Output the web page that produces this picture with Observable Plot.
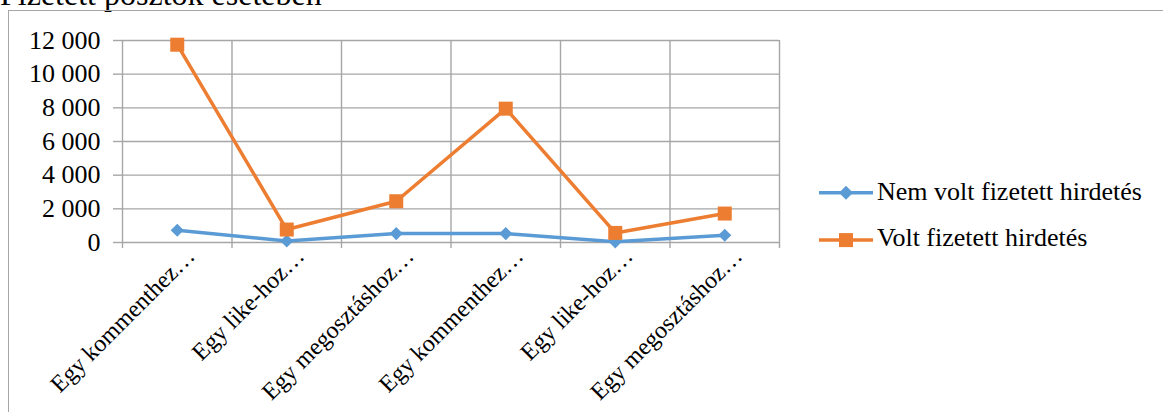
<!DOCTYPE html>
<html>
<head>
<meta charset="utf-8">
<script src="https://cdn.jsdelivr.net/npm/d3@7"></script>
<script src="https://cdn.jsdelivr.net/npm/@observablehq/plot@0.6"></script>
<style>
  html, body { margin: 0; padding: 0; background: #fff; }
  #wrap { position: relative; width: 1163px; height: 412px; overflow: hidden; font-family: "Liberation Serif", "Times New Roman", serif; color: #000; }
  #title { position: absolute; left: 0; top: -21.8px; font-size: 32px; line-height: 32px; white-space: nowrap; }
  #frame { position: absolute; left: 8px; top: 10px; width: 1300px; height: 600px; border-left: 1.5px solid #a6a6a6; border-top: 1.5px solid #a6a6a6; }
  #chart { position: absolute; left: 0; top: 0; }
  .leg { position: absolute; left: 819px; font-size: 26px; line-height: 26px; white-space: nowrap; }
  .leg svg { position: absolute; left: 0; }
  .leg span { position: absolute; left: 58px; top: 0; }
</style>
</head>
<body>
<div id="wrap">
  <div id="title">Fizetett posztok esetében</div>
  <div id="frame"></div>
  <div id="chart"></div>
  <div id="legend"></div>
</div>
<script>
const categories = ["Egy kommenthez…", "Egy like-hoz…", "Egy megosztáshoz…", "Egy kommenthez…", "Egy like-hoz…", "Egy megosztáshoz…"];
const seriesNames = ["Nem volt fizetett hirdetés", "Volt fizetett hirdetés"];
const nemVolt = [730, 90, 530, 530, 40, 430];
const volt = [11750, 770, 2450, 7950, 570, 1720];
const yTicks = [0, 2000, 4000, 6000, 8000, 10000, 12000];
const colors = ["#5B9BD5", "#ED7D31"];

const grid = "#a6a6a6";
const fmt = d => d3.format(",")(d).replace(/,/g, " ");
const xi = (d, i) => i + 0.5;
const bounds = d3.range(categories.length + 1);

const plot = Plot.plot({
  width: 800,
  height: 412,
  marginLeft: 122,
  marginRight: 21,
  marginTop: 40,
  marginBottom: 170,
  style: { fontFamily: "Liberation Serif, Times New Roman, serif", fontSize: "26px", color: "#000", background: "transparent", overflow: "visible" },
  x: { type: "linear", domain: [0, categories.length], axis: null },
  y: { domain: [0, 12000], axis: null },
  marks: [
    Plot.gridY(yTicks, { stroke: grid, strokeOpacity: 1, strokeWidth: 1.4 }),
    Plot.gridX(bounds, { stroke: grid, strokeOpacity: 1, strokeWidth: 1.4 }),
    Plot.axisY(yTicks, { tickSize: 9, tickPadding: 13, stroke: grid, strokeWidth: 1.4, fill: "#000", tickFormat: fmt, label: null, fontSize: 26 }),
    Plot.axisX(bounds, { tickSize: 6, stroke: grid, strokeWidth: 1.4, tickFormat: () => "", label: null }),
    Plot.line(nemVolt, { x: xi, y: d => d, stroke: colors[0], strokeWidth: 3.5 }),
    Plot.line(volt, { x: xi, y: d => d, stroke: colors[1], strokeWidth: 3.5 }),
    Plot.dot(nemVolt, { x: xi, y: d => d, symbol: "diamond2", r: 5.9, fill: colors[0], stroke: null }),
    Plot.dot(volt, { x: xi, y: d => d, symbol: "square", r: 7.9, fill: colors[1], stroke: null }),
    Plot.text(categories, { x: xi, y: () => 0, text: d => d, rotate: -45, textAnchor: "end", lineAnchor: "bottom", dx: 19, dy: 15, fontSize: 24, fill: "#000" })
  ]
});
document.getElementById("chart").appendChild(plot);

// Legend
const legend = document.getElementById("legend");
const rows = [{ top: 178.9, lineY: 13.8 }, { top: 224.9, lineY: 15.1 }];
seriesNames.forEach((name, i) => {
  const div = document.createElement("div");
  div.className = "leg";
  div.style.top = rows[i].top + "px";
  const ly = rows[i].lineY;
  const marker = i === 0
    ? `<path d="M27,${ly - 7} L34,${ly} L27,${ly + 7} L20,${ly} Z" fill="${colors[0]}"/>`
    : `<rect x="20" y="${ly - 7}" width="14" height="14" fill="${colors[1]}"/>`;
  div.innerHTML = `<svg width="56" height="30" style="top:0px"><line x1="0" x2="54" y1="${ly}" y2="${ly}" stroke="${colors[i]}" stroke-width="3.5"/>${marker}</svg><span>${name}</span>`;
  legend.appendChild(div);
});
</script>
</body>
</html>
